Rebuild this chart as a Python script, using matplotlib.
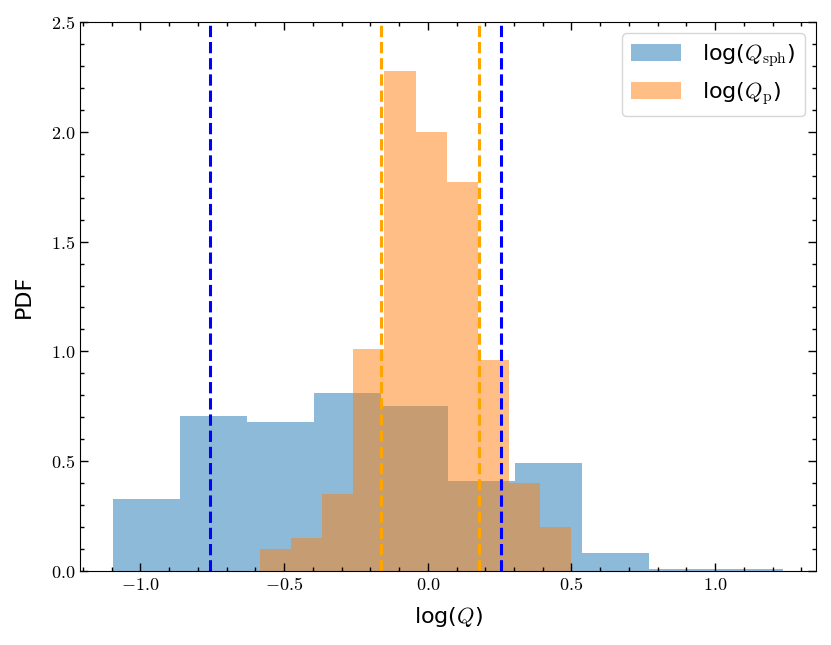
import numpy as np
import matplotlib
matplotlib.use("Agg")
import matplotlib.pyplot as plt
from matplotlib.ticker import MultipleLocator, FuncFormatter

plt.rcParams['mathtext.fontset'] = 'cm'

# histogram edges and densities
sph_edges = [-1.094, -0.861, -0.628, -0.395, -0.163, 0.070, 0.303, 0.536, 0.769, 1.002, 1.235]
sph_pdf = [0.328, 0.706, 0.680, 0.811, 0.752, 0.411, 0.493, 0.080, 0.008, 0.008]

p_edges = [-0.585, -0.477, -0.368, -0.259, -0.151, -0.042, 0.066, 0.175, 0.283, 0.392, 0.500]
p_pdf = [0.099, 0.149, 0.352, 1.011, 2.278, 2.000, 1.773, 0.961, 0.402, 0.202]

# interval bounds (dashed lines)
sph_bounds = [-0.758, 0.256]
p_bounds = [-0.162, 0.179]

fig = plt.figure(figsize=(8.31, 6.45), dpi=100)
ax = fig.add_axes([0.0963, 0.1147, 0.8857, 0.8512])

ax.bar(sph_edges[:-1], sph_pdf, width=np.diff(sph_edges), align='edge',
       color='C0', alpha=0.5, label=r'log($Q_{\rm sph}$)')
ax.bar(p_edges[:-1], p_pdf, width=np.diff(p_edges), align='edge',
       color='C1', alpha=0.5, label=r'log($Q_{\rm p}$)')

for xb in sph_bounds:
    ax.axvline(xb, color='blue', ls='--', lw=2.2)
for xb in p_bounds:
    ax.axvline(xb, color='orange', ls='--', lw=2.2)

ax.set_xlim(-1.210, 1.351)
ax.set_ylim(0, 2.5)

ax.xaxis.set_major_locator(MultipleLocator(0.5))
ax.xaxis.set_minor_locator(MultipleLocator(0.1))
ax.yaxis.set_major_locator(MultipleLocator(0.5))
ax.yaxis.set_minor_locator(MultipleLocator(0.1))
fmt = FuncFormatter(lambda v, pos: r'$%.1f$' % v)
ax.xaxis.set_major_formatter(fmt)
ax.yaxis.set_major_formatter(fmt)
ax.tick_params(which='both', direction='in', top=True, right=True, labelsize=13)
ax.tick_params(which='major', length=6, width=1)
ax.tick_params(which='minor', length=3, width=1)

ax.set_xlabel(r'log($Q$)', fontsize=16, labelpad=8)
ax.set_ylabel('PDF', fontsize=16, labelpad=12)
ax.legend(loc='upper right', fontsize=16, handlelength=2.25,
          handleheight=0.75, handletextpad=0.95)

fig.savefig('out.png', dpi=100)
